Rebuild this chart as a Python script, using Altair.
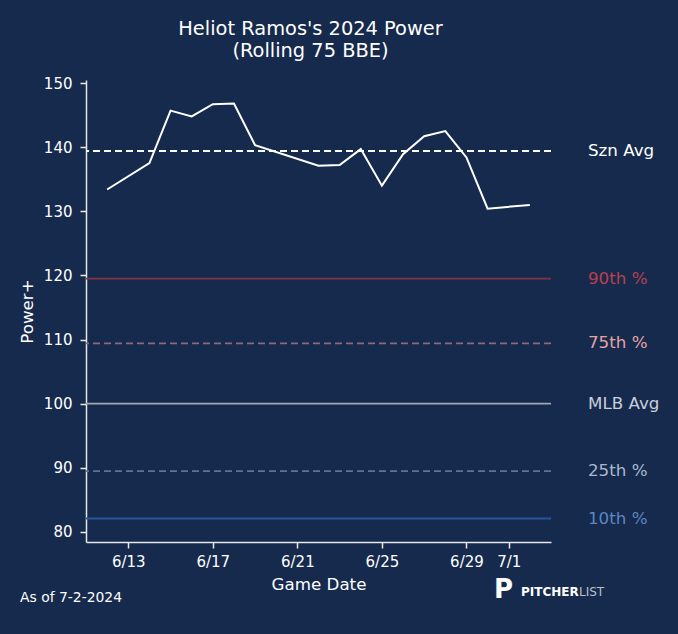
import altair as alt
import pandas as pd
import jinja2

# ---- data ----
game_dates = ["2024-06-12", "2024-06-14", "2024-06-15", "2024-06-16", "2024-06-17",
              "2024-06-18", "2024-06-19", "2024-06-22", "2024-06-23", "2024-06-24",
              "2024-06-25", "2024-06-26", "2024-06-27", "2024-06-28", "2024-06-29",
              "2024-06-30", "2024-07-02"]
power_plus = [133.4, 137.5, 145.7, 144.8, 146.7, 146.8, 140.3, 137.1, 137.2, 139.7,
              134.0, 138.9, 141.7, 142.5, 138.4, 130.4, 131.0]

ref_labels = ["Szn Avg", "90th %", "75th %", "MLB Avg", "25th %", "10th %"]
ref_values = [139.4, 119.5, 109.4, 100.0, 89.5, 82.1]
ref_line_colors = ["#ffffff", "#843142", "#8c6a7a", "#a0a7b2", "#5b7498", "#2656a0"]
ref_text_colors = ["#ffffff", "#b8414c", "#e2a4a4", "#c9cfd8", "#aab9d0", "#5d87c0"]
ref_dashed = [True, False, True, False, True, False]

tick_dates = ["2024-06-13", "2024-06-17", "2024-06-21", "2024-06-25", "2024-06-29", "2024-07-01"]
y_ticks = [80, 90, 100, 110, 120, 130, 140, 150]

title_lines = ["Heliot Ramos's 2024 Power", "(Rolling 75 BBE)"]

BG = "#162a4d"
FONT = "DejaVu Sans"

line_df = pd.DataFrame({"date": [d + "T00:00:00" for d in game_dates], "value": power_plus})
ref_df = pd.DataFrame({"label": ref_labels, "value": ref_values,
                       "lc": ref_line_colors, "tc": ref_text_colors,
                       "dashed": ref_dashed})

W, H = 465, 462

def dt(s):
    y, m, d = s.split("-")
    return alt.DateTime(year=int(y), month=int(m), date=int(d))

x_scale = alt.Scale(domain=[dt("2024-06-11"), dt("2024-07-03")])
y_scale = alt.Scale(domain=[78.44, 150.47], nice=False, zero=False)

x_axis = alt.Axis(values=[dt(t) for t in tick_dates], format="%-m/%-d",
                  title="Game Date", grid=False, labelFontSize=15, titleFontSize=16.7,
                  labelColor="#ffffff", titleColor="#ffffff", domainColor="#e8e8e8",
                  tickColor="#e8e8e8", tickSize=6, labelPadding=6, titlePadding=7,
                  domainWidth=1.5, tickWidth=1.5, labelFont=FONT, titleFont=FONT,
                  titleFontWeight="normal")
y_axis = alt.Axis(values=y_ticks, title="Power+", grid=False, labelFontSize=15,
                  titleFontSize=16.7, labelColor="#ffffff", titleColor="#ffffff",
                  domainColor="#e8e8e8", tickColor="#e8e8e8", tickSize=6,
                  labelPadding=8, titlePadding=7, domainWidth=1.5, tickWidth=1.5,
                  labelFont=FONT, titleFont=FONT, titleFontWeight="normal")

base_line = alt.Chart(line_df).mark_line(color="#ffffff", strokeWidth=2).encode(
    x=alt.X("date:T", scale=x_scale, axis=x_axis),
    y=alt.Y("value:Q", scale=y_scale, axis=y_axis),
)

solid_rules = alt.Chart(ref_df).transform_filter("!datum.dashed").mark_rule(strokeWidth=1.8).encode(
    y=alt.Y("value:Q", scale=y_scale),
    color=alt.Color("lc:N", scale=None),
)
dashed_rules = alt.Chart(ref_df).transform_filter("datum.dashed").mark_rule(
    strokeWidth=1.8, strokeDash=[7, 4]).encode(
    y=alt.Y("value:Q", scale=y_scale),
    color=alt.Color("lc:N", scale=None),
)
ref_text = alt.Chart(ref_df).mark_text(align="left", baseline="middle", fontSize=16.7,
                                       font=FONT).encode(
    x=alt.value(W + 37),
    y=alt.Y("value:Q", scale=y_scale),
    text="label:N",
    color=alt.Color("tc:N", scale=None),
)

title1 = alt.Chart(pd.DataFrame({"t": [title_lines[0]]})).mark_text(
    align="center", baseline="middle", fontSize=19.4, font=FONT, color="#ffffff").encode(
    x=alt.value(W / 2 - 8), y=alt.value(-51), text="t:N")
title2 = alt.Chart(pd.DataFrame({"t": [title_lines[1]]})).mark_text(
    align="center", baseline="middle", fontSize=19.4, font=FONT, color="#ffffff").encode(
    x=alt.value(W / 2 - 8), y=alt.value(-29), text="t:N")

footer = alt.Chart(pd.DataFrame({"t": ["As of 7-2-2024"]})).mark_text(
    align="left", baseline="middle", fontSize=13.9, font=FONT, color="#ffffff").encode(
    x=alt.value(-66), y=alt.value(518), text="t:N")

logo_p = alt.Chart(pd.DataFrame({"t": ["P"]})).mark_text(
    align="left", baseline="middle", fontSize=26, fontWeight="bold", font=FONT,
    color="#ffffff").encode(x=alt.value(408), y=alt.value(510), text="t:N")
logo_a = alt.Chart(pd.DataFrame({"t": ["PITCHER"]})).mark_text(
    align="left", baseline="middle", fontSize=12, fontWeight="bold", font=FONT,
    color="#ffffff").encode(x=alt.value(435), y=alt.value(512), text="t:N")
logo_b = alt.Chart(pd.DataFrame({"t": ["LIST"]})).mark_text(
    align="left", baseline="middle", fontSize=12, font=FONT,
    color="#b9c0cc").encode(x=alt.value(493), y=alt.value(512), text="t:N")

chart = alt.layer(solid_rules, dashed_rules, base_line, ref_text, title1, title2,
                  footer, logo_p, logo_a, logo_b).properties(
    width=W, height=H,
    background=BG,
    padding={"left": 78, "top": 72, "right": 119, "bottom": 84},
    autosize=alt.AutoSizeParams(type="none"),
).configure_view(stroke=None).configure_text(font=FONT)

TEMPLATE = jinja2.Template("""<!DOCTYPE html>
<html>
<head>
  <style>
    body { background: """ + BG + """; }
    #{{ output_div }}.vega-embed { width: 100%; display: flex; }
  </style>
  <script type="text/javascript" src="{{ base_url }}/vega@{{ vega_version }}"></script>
  <script type="text/javascript" src="{{ base_url }}/vega-lite@{{ vegalite_version }}"></script>
  <script type="text/javascript" src="{{ base_url }}/vega-embed@{{ vegaembed_version }}"></script>
</head>
<body>
  <div id="{{ output_div }}"></div>
  <script>
    (function(vegaEmbed) {
      var spec = {{ spec }};
      var embedOpt = {{ embed_options }};
      vegaEmbed("#{{ output_div }}", spec, embedOpt).catch(console.error);
    })(vegaEmbed);
  </script>
</body>
</html>
""")

try:
    chart.save("out.html", embed_options={"renderer": "svg", "actions": False}, template=TEMPLATE)
except Exception:
    chart.save("out.html", embed_options={"renderer": "svg", "actions": False})
